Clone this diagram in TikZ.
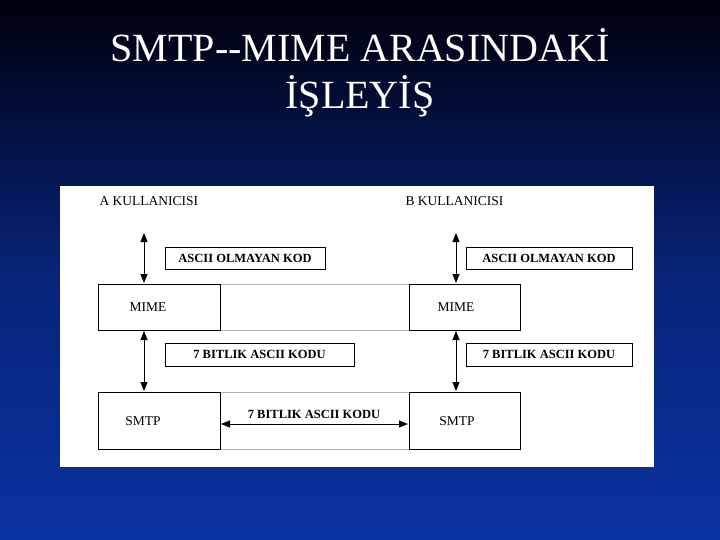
\documentclass[tikz,border=0pt]{standalone}
\usepackage{fontspec}
\setmainfont{Liberation Serif}
\usetikzlibrary{arrows.meta}
\begin{document}
\begin{tikzpicture}[x=1pt,y=-1pt,
  box/.style={draw=black,line width=0.8pt},
  lbl/.style={draw=black,line width=0.8pt,font=\fontsize{12.5}{13}\selectfont\bfseries},
  txt/.style={font=\fontsize{13.5}{14}\selectfont},
  dbl/.style={{Triangle[length=9pt,width=7pt]}-{Triangle[length=9pt,width=7pt]},line width=0.8pt}]
\shade[top color=black!95!blue, bottom color={rgb,255:red,10;green,50;blue,160}, middle color={rgb,255:red,8;green,35;blue,120}] (0,0) rectangle (720,540);
\useasboundingbox (0,0) rectangle (720,540);
\node[text=white,font=\fontsize{40}{44}\selectfont] (t1) at (360,45) {SMTP{-}{-}MIME ARASINDAKİ};
\node[text=white,font=\fontsize{40}{44}\selectfont] (t2) at (360,96) {İŞLEYİŞ};
\fill[white] (60,186) rectangle (654,467);
\draw[gray!60] (220,284) -- (409,284) (220,330) -- (409,330) (220,392) -- (409,392) (220,449) -- (409,449);
\draw[box] (98,284) rectangle (220,330); \node[txt] (mA) at (148,307) {MIME};
\draw[box] (409,284) rectangle (520,330); \node[txt] (mB) at (456,307) {MIME};
\draw[box] (98,392) rectangle (220,449); \node[txt] (sA) at (143,421) {SMTP};
\draw[box] (409,392) rectangle (520,449); \node[txt] (sB) at (457,421) {SMTP};
\node[lbl,minimum width=160pt,minimum height=22pt] (l1) at (245,258) {ASCII OLMAYAN KOD};
\node[lbl,minimum width=166pt,minimum height=22pt] (l2) at (549,258) {ASCII OLMAYAN KOD};
\node[lbl,minimum width=189pt,minimum height=23pt] (l3) at (259.5,354.5) {7 BITLIK ASCII KODU};
\node[lbl,minimum width=166pt,minimum height=23pt] (l4) at (549,354.5) {7 BITLIK ASCII KODU};
\node[txt,anchor=west] (uA) at (96,201) {A KULLANICISI};
\node[txt,anchor=west] (uB) at (402,201) {B KULLANICISI};
\coordinate (a1) at (144,233); \coordinate (a2) at (144,283);
\coordinate (a3) at (144,331); \coordinate (a4) at (144,391);
\coordinate (b1) at (456,233); \coordinate (b2) at (456,283);
\coordinate (b3) at (456,331); \coordinate (b4) at (456,391);
\coordinate (h1) at (221,424); \coordinate (h2) at (408,424);
\draw[dbl] (a1) -- (a2); \draw[dbl] (a3) -- (a4);
\draw[dbl] (b1) -- (b2); \draw[dbl] (b3) -- (b4);
\draw[dbl] (h1) -- (h2);
\node[font=\fontsize{12.5}{13}\selectfont\bfseries] (hl) at (314,414) {7 BITLIK ASCII KODU};
\end{tikzpicture}
\end{document}
